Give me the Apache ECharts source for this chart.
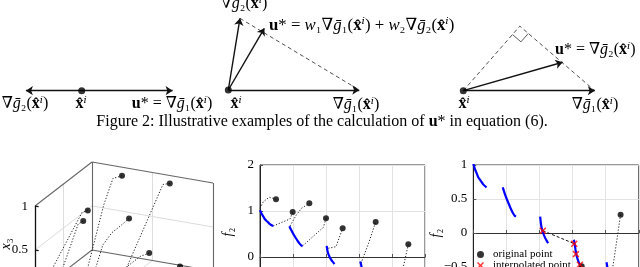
<!DOCTYPE html>
<html><head><meta charset="utf-8">
<script src="https://cdn.jsdelivr.net/npm/echarts@6/dist/echarts.min.js"></script>
<style>html,body{margin:0;padding:0;background:#fff}#c{width:640px;height:267px}</style>
</head><body><div id="c"></div>
<script>
// ---------------- data ----------------
// vector diagrams (units: length of grad g1)
const d1G1 = [1.01, 0];
const d1G2 = [-0.62, 0];
const d2G1 = [1.0, 0];
const d2G2 = [0.089, 0.547];
const d2U  = [0.275, 0.471];
const d3G1 = [1.0, 0];
const d3Apex = [0.43, 0.491];
const d3U  = [0.755, 0.216];

// 3D panel: original points (x1,x2,x3) and dotted trajectories
const points3d = [[0.89,0.3,0.97],[0.9,0.69,0.97],[0.82,0.05,0.55],[0.74,0.05,0.47],[0.61,0.49,0.67],[0.9,0.52,0.14],[0.91,0.77,0.04]];
const trajA = [[0.89,0.3,0.97],[0.73,0.3,1.02],[0.57,0.3,0.8],[0.29,0.3,0.23],[0.15,0.3,0.04]];
const trajB = [[0.9,0.69,0.97],[0.78,0.69,1.02],[0.15,0.69,0.4],[0.03,0.69,0.2]];
const trajC = [[0.82,0.05,0.55],[0.72,0.05,0.58],[0.21,0.05,0.21],[0.07,0.05,0.02]];
const trajD = [[0.74,0.05,0.47],[0.65,0.05,0.48],[0.39,0.05,0.13],[0.3,0.05,0.02]];
const trajE = [[0.61,0.49,0.67],[0.42,0.49,0.66],[0.31,0.49,0.66],[0.15,0.49,0.6],[0.03,0.49,0.41]];
const trajF = [[0.9,0.52,0.14],[0.74,0.52,0.18],[0.39,0.52,0.18]];
const trajG = [[0.91,0.77,0.04],[0.65,0.77,0.08]];
const x3Ticks = [0.5, 1];

// 2D panels: blue curves (shared)
const curve1 = [[0,1.02],[0.01,0.94],[0.02,0.88],[0.03,0.82],[0.044,0.77],[0.06,0.715],[0.08,0.672]];
const curve2 = [[0.178,0.67],[0.19,0.58],[0.202,0.5],[0.214,0.43],[0.226,0.36],[0.24,0.29],[0.25,0.255],[0.258,0.24]];
const curve3 = [[0.404,0.24],[0.407,0.17],[0.411,0.1],[0.416,0.05],[0.422,0.0],[0.43,-0.05],[0.44,-0.1],[0.452,-0.15]];
const curve4 = [[0.608,-0.1],[0.612,-0.16],[0.618,-0.25],[0.624,-0.33],[0.634,-0.41],[0.645,-0.47],[0.66,-0.53],[0.68,-0.58]];
const curve5 = [[0.805,-0.43],[0.81,-0.5],[0.818,-0.58],[0.83,-0.65]];
// middle panel: original points and dotted paths
const origPoints = [[0.097,1.254],[0.198,0.978],[0.299,1.167],[0.4,0.84],[0.501,0.623],[0.701,0.76],[0.899,0.276]];
const path1 = [[0,1.06],[0.02,1.2],[0.056,1.3],[0.097,1.254]];
const path2 = [[0.08,0.672],[0.13,0.75],[0.182,0.826],[0.198,0.978]];
const path3 = [[0.182,0.674],[0.22,0.913],[0.252,1.06],[0.299,1.167]];
const path4 = [[0.258,0.24],[0.32,0.44],[0.384,0.646],[0.4,0.84]];
const path5 = [[0.414,0.19],[0.461,0.224],[0.475,0.37],[0.501,0.623]];
const path6 = [[0.612,-0.14],[0.66,0.32],[0.701,0.76]];
const path7 = [[0.899,0.276],[0.869,-0.21],[0.837,-0.6]];
// right panel
const origPoints3 = [[0.89,0.27],[0.655,-0.49]];
const interpPoints = [[0.42,0.034],[0.61,-0.157],[0.62,-0.31],[0.644,-0.466]];
const path7b = [[0.89,0.27],[0.85,-0.39],[0.835,-0.62]];

// ---------------- helpers ----------------
const F = "'Liberation Serif','DejaVu Serif','Times New Roman',serif";
const BLUE = '#0000ff';
function proj(p){ const a=p[0], b=p[1], c=p[2]; return [b + 0.471*a, 0.727*c + 0.364*a - 0.174*b]; }
const XPATH = 'path://M0,1.5L1.5,0L5,3.5L8.5,0L10,1.5L6.5,5L10,8.5L8.5,10L5,6.5L1.5,10L0,8.5L3.5,5Z';

const grids = [
  {left:9.7, top:18.7, width:189, height:90},
  {left:215.2, top:-1.7, width:157.2, height:104.8},
  {left:450.15, top:11.8, width:157.8, height:92.05},
  {left:-1.3, top:148.8, width:223.85, height:181.5},
  {left:260, top:165, width:165, height:138, show:true, borderColor:'#333', borderWidth:1},
  {left:473.3, top:165, width:165.5, height:170, show:true, borderColor:'#333', borderWidth:1}
].map(g=>Object.assign({outerBoundsMode:'none', containLabel:false}, g));
const hid = (g,min,max)=>({type:'value', gridIndex:g, min:min, max:max, show:false});
const fmt = v => (v<0 ? '\u2212'+Math.abs(v) : String(v));
const xAxes = [hid(0,-0.8,1.3), hid(1,-0.1,1.1), hid(2,-0.1,1.1), hid(3,-0.3,1.55)];
const yAxes = [hid(0,-0.2,0.8), hid(1,-0.1,0.7), hid(2,-0.1,0.6), hid(3,-0.3,1.2)];
function plotAxes(g, ymin, ymax, yint){
  xAxes.push({type:'value', gridIndex:g, min:0, max:1, interval:0.2,
    axisLine:{show:true, lineStyle:{color:'#333'}}, axisTick:{inside:true, length:3, lineStyle:{color:'#555'}},
    axisLabel:{show:false}, splitLine:{show:true, lineStyle:{color:'#e3e3e3', width:1}}});
  yAxes.push({type:'value', gridIndex:g, min:ymin, max:ymax, interval:yint,
    axisLine:{show:true, lineStyle:{color:'#222'}}, axisTick:{inside:true, length:3, lineStyle:{color:'#555'}},
    axisLabel:{show:true, fontFamily:F, fontSize:13, color:'#000', margin:6, formatter:fmt},
    splitLine:{show:true, lineStyle:{color:'#e3e3e3', width:1}}});
}
plotAxes(4, -1, 2, 1);
plotAxes(5, -1.5, 1, 0.5);

const series = [];
function arrows(g, vecs){
  series.push({type:'lines', coordinateSystem:'cartesian2d', xAxisIndex:g, yAxisIndex:g, polyline:false,
    symbol:['none','arrow'], symbolSize:7, silent:true, z:3,
    lineStyle:{color:'#111', width:1.4, opacity:1},
    data: vecs.map(v=>({coords:[[0,0], v]}))});
}
function dashed(g, pts, style){
  series.push({type:'line', xAxisIndex:g, yAxisIndex:g, data:pts, symbol:'none', silent:true, clip:false, z:2,
    lineStyle:Object.assign({color:'#222', width:0.8, type:[4,3]}, style||{})});
}
function dot(g, pts, size, name){
  series.push({type:'scatter', name:name, xAxisIndex:g, yAxisIndex:g, data:pts, symbol:'circle', symbolSize:size||6,
    itemStyle:{color:'#000'}, silent:true, z:5, clip:false});
}
// Diagram 1
arrows(0, [d1G1, d1G2]);
dot(0, [[0,0]], 7);
// Diagram 2
arrows(1, [d2G1, d2G2, d2U]);
dashed(1, [d2G2, d2G1]);
dot(1, [[0,0]], 7);
// Diagram 3
arrows(2, [d3G1, d3U]);
dashed(2, [[0,0], d3Apex, d3G1]);
(function(){
  const a=[-d3Apex[0], -d3Apex[1]]; const la=Math.hypot(a[0],a[1]);
  const b=[d3G1[0]-d3Apex[0], d3G1[1]-d3Apex[1]]; const lb=Math.hypot(b[0],b[1]);
  const s=0.085;
  const p1=[d3Apex[0]+s*a[0]/la, d3Apex[1]+s*a[1]/la];
  const p3=[d3Apex[0]+s*b[0]/lb, d3Apex[1]+s*b[1]/lb];
  const p2=[p1[0]+s*b[0]/lb, p1[1]+s*b[1]/lb];
  dashed(2, [p1,p2,p3], {type:'solid', width:0.8, color:'#333'});
})();
dot(2, [[0,0]], 7);

// 3D panel frame
const darkEdges = [
  [[0,0,1],[1,0,1]], [[1,0,1],[1,1,1]], [[1,0,0],[1,0,1]], [[1,1,0],[1,1,1]],
  [[1,0,0],[1,1,0]], [[0,0,0],[1,0,0]]
];
const gridEdges = [
  [[1,0.5,0],[1,0.5,1]], [[1,0,0.5],[1,1,0.5]],
  [[0.5,0,0],[0.5,0,1]], [[0,0,0.5],[1,0,0.5]],
  [[0.5,0,0],[0.5,1,0]], [[0,0.5,0],[1,0.5,0]]
];
series.push({type:'lines', coordinateSystem:'cartesian2d', xAxisIndex:3, yAxisIndex:3, polyline:false, silent:true, z:1,
  lineStyle:{color:'#dcdcdc', width:1, opacity:1}, data:gridEdges.map(e=>({coords:[proj(e[0]),proj(e[1])]}))});
series.push({type:'lines', coordinateSystem:'cartesian2d', xAxisIndex:3, yAxisIndex:3, polyline:false, silent:true, z:2,
  lineStyle:{color:'#666', width:1.1, opacity:1}, data:darkEdges.map(e=>({coords:[proj(e[0]),proj(e[1])]}))});
series.push({type:'lines', coordinateSystem:'cartesian2d', xAxisIndex:3, yAxisIndex:3, polyline:false, silent:true, z:3,
  lineStyle:{color:'#111', width:1.3, opacity:1},
  data:[{coords:[proj([0,0,-0.5]),proj([0,0,1])]}].concat(x3Ticks.map(t=>({coords:[proj([0,0,t]),proj([0,0.03,t])]})))});
[trajA,trajB,trajC,trajD,trajE,trajF,trajG].forEach(tr=>{
  series.push({type:'line', xAxisIndex:3, yAxisIndex:3, data:tr.map(proj), symbol:'none', silent:true, z:3,
    lineStyle:{color:'#222', width:1, type:[1.2,1.8]}});
});
dot(3, points3d.map(proj), 6);

// Middle panel
[path1,path2,path3,path4,path5,path6,path7].forEach(p=>{
  series.push({type:'line', xAxisIndex:4, yAxisIndex:4, data:p, symbol:'none', silent:true, z:3,
    lineStyle:{color:'#222', width:1, type:[1.2,1.8]}});
});
[curve1,curve2,curve3,curve4,curve5].forEach(c=>{
  series.push({type:'line', xAxisIndex:4, yAxisIndex:4, data:c, symbol:'none', smooth:0.3, silent:true, z:4,
    lineStyle:{color:BLUE, width:2.2}});
});
dot(4, origPoints, 6, 'orig2');

// Right panel
series.push({type:'line', xAxisIndex:5, yAxisIndex:5, data:path7b, symbol:'none', silent:true, z:3,
  lineStyle:{color:'#222', width:1, type:[1.2,1.8]}});
[curve1,curve2,curve3,curve4,curve5].forEach(c=>{
  series.push({type:'line', xAxisIndex:5, yAxisIndex:5, data:c, symbol:'none', smooth:0.3, silent:true, z:4,
    lineStyle:{color:BLUE, width:2.2}});
});
series.push({type:'line', xAxisIndex:5, yAxisIndex:5, data:interpPoints.slice(0,2), symbol:'none', silent:true, z:5,
  lineStyle:{color:'#111', width:1, type:[3,2]}});
series.push({type:'scatter', name:'original point', xAxisIndex:5, yAxisIndex:5, data:origPoints3, symbol:'circle', symbolSize:6,
  itemStyle:{color:'#000'}, z:6, silent:true});
series.push({type:'scatter', name:'interpolated point', xAxisIndex:5, yAxisIndex:5, data:interpPoints, symbol:XPATH, symbolSize:7,
  itemStyle:{color:'#ff0000'}, z:7, silent:true});

// ---------------- text ----------------
const R = (s)=>({
  n:{fontFamily:F, fontSize:s},
  i:{fontFamily:F, fontSize:s, fontStyle:'italic'},
  b:{fontFamily:F, fontSize:s, fontWeight:'bold'}
});
const G2 = '{n|\u2207}{i|\u1e21}{n|\u2082(}{b|x\u0302}{i|\u2071}{n|)}';
const G1 = '{n|\u2207}{i|\u1e21}{n|\u2081(}{b|x\u0302}{i|\u2071}{n|)}';
const XI = '{b|x\u0302}{i|\u2071}';
function T(text, x, y, align, size, rot){
  return {type:'text', x:x, y:y, rotation:rot||0, silent:true, z:10,
    style:{text:text, rich:R(size||16), fontFamily:F, fontSize:size||16, fill:'#000',
      align:align||'center', verticalAlign:'middle', textAlign:align||'center', textVerticalAlign:'middle'}};
}
const graphics = [
  T(G2, 25, 104, 'center'),
  T(XI, 81, 104, 'center'),
  T('{b|u}{n|* = }' + G1, 172, 104, 'center'),
  T(G2, 244, 4, 'center'),
  T('{b|u}{n|* = }{i|w}{n|\u2081}' + G1 + '{n| + }{i|w}{n|\u2082}' + G2, 269, 26, 'left', 16.8),
  T(XI, 236, 104, 'center'),
  T(G1, 356, 105, 'center'),
  T('{b|u}{n|* = }' + G2, 555, 50, 'left'),
  T(XI, 464, 104, 'center'),
  T(G1, 595, 105, 'center'),
  T('{n|Figure 2: Illustrative examples of the calculation of }{b|u}{n|* in equation (6).}', 322, 122, 'center', 16),
  T('{n|1}', 28, 207, 'right', 13),
  T('{n|0.5}', 28, 250, 'right', 13),
  T('{i|x}{n|\u2083}', 6, 244, 'center', 14, Math.PI/2),
  T('{i|f}{n|\u2082}', 228, 232, 'center', 14, Math.PI/2),
  T('{i|f}{n|\u2082}', 436, 233, 'center', 14, Math.PI/2)
];

const legendBase = {orient:'vertical', itemWidth:7, itemHeight:7, selectedMode:false, padding:0,
  textStyle:{fontFamily:F, fontSize:11, color:'#000', padding:[0,0,0,4]}};
const chart = echarts.init(document.getElementById('c'), null, {width:640, height:267});
chart.setOption({
  animation:false,
  backgroundColor:'#fff',
  grid:grids, xAxis:xAxes, yAxis:yAxes, series:series, graphic:graphics,
  legend:[
    Object.assign({left:477, top:249, data:[{name:'original point', icon:'circle'}]}, legendBase),
    Object.assign({left:477, top:260, data:[{name:'interpolated point', icon:XPATH}]}, legendBase)
  ]
});
</script></body></html>
